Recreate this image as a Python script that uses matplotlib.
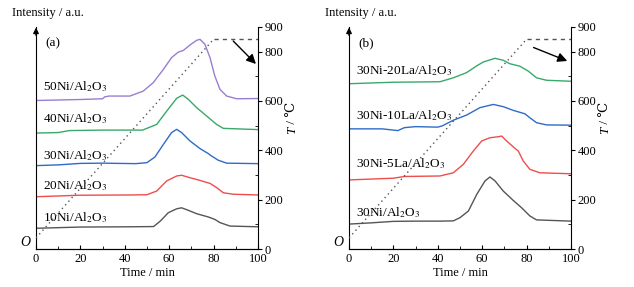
import numpy as np
import matplotlib
matplotlib.use('Agg')
import matplotlib.pyplot as plt

plt.rcParams['font.family'] = ['Liberation Serif', 'DejaVu Serif']
plt.rcParams['mathtext.fontset'] = 'stix'
plt.rcParams['font.size'] = 9

# ---- panel (a): Ni loading series (intensity in arbitrary units) ----
t_a10 = [0, 20, 42, 53, 56, 59.6, 63.4, 65.6, 68.6, 72.4, 77.6, 80.6, 82.9, 87.4, 100]
i_a10 = [84, 89, 90, 91, 113, 147, 163, 167, 157, 143, 130, 120, 107, 93, 90]
t_a20 = [0, 20, 42, 50, 54.4, 58.9, 63.4, 65.6, 69.4, 73.9, 78.4, 81.4, 84.4, 88.9, 100]
i_a20 = [212, 218, 219, 220, 235, 276, 296, 299, 289, 278, 266, 249, 228, 222, 219]
t_a30 = [0, 10, 20, 30, 45, 50, 53.6, 57.4, 61.1, 63.4, 65.6, 69.4, 73.9, 77.6, 79.1, 82.1,
         85.9, 100]
i_a30 = [338, 341, 347, 348, 346, 350, 373, 424, 472, 485, 472, 438, 407, 387, 377, 360,
         348, 346]
t_a40 = [0, 10, 15, 30, 48, 54.4, 58.9, 63.4, 66.1, 68.6, 72.4, 76.9, 81.4, 84.4, 100]
i_a40 = [470, 472, 480, 482, 482, 505, 559, 611, 624, 607, 573, 539, 505, 489, 484]
t_a50 = [0, 20, 30, 31, 33, 40, 42.3, 48.3, 52.8, 57.4, 61.1, 64.1, 66.4, 69.4, 72.4, 73.9,
         76.1, 78.4, 80.6, 82.9, 85.9, 90.4, 100]
i_a50 = [602, 606, 609, 617, 620, 620, 620, 640, 674, 728, 776, 798, 805, 827, 846, 850,
         830, 776, 701, 647, 620, 609, 610]

# ---- panel (b): La promoted series ----
t_b0 = [0, 10, 20, 30, 41, 47, 50, 53.8, 57.6, 61.3, 63.5, 65.8, 69.5, 74, 77.8, 81.5, 84.5,
        100]
i_b0 = [101, 106, 112, 113, 113, 114, 127, 154, 222, 276, 292, 276, 235, 197, 167, 134, 118,
        113]
t_b5 = [0, 20, 25, 41, 47, 51.5, 56, 59.8, 63.5, 67.3, 68.8, 71, 74.8, 76.3, 78.5, 81.5, 86,
        100]
i_b5 = [280, 287, 294, 296, 309, 343, 397, 438, 451, 455, 458, 438, 408, 397, 357, 323, 309,
        305]
t_b10 = [0, 15, 22, 25, 30, 40, 42, 47, 53, 59, 65, 69.5, 74, 79.3, 81.5, 84.5, 89, 100]
i_b10 = [487, 487, 480, 492, 496, 494, 499, 522, 543, 573, 586, 577, 562, 548, 532, 512, 503,
         502]
t_b20 = [0, 20, 41, 47, 53, 57.5, 60.5, 65.8, 69.5, 72.5, 77, 80.8, 84.5, 89, 100]
i_b20 = [670, 676, 678, 694, 715, 742, 758, 773, 765, 751, 741, 721, 694, 684, 680]

# temperature program
t_ramp = [0, 80]
T_ramp = [45, 850]
t_hold = [80, 100]
T_hold = [850, 850]

labels_a = ['10Ni/Al$_2$O$_3$', '20Ni/Al$_2$O$_3$', '30Ni/Al$_2$O$_3$',
            '40Ni/Al$_2$O$_3$', '50Ni/Al$_2$O$_3$']
labels_b = ['30Ni/Al$_2$O$_3$', '30Ni-5La/Al$_2$O$_3$', '30Ni-10La/Al$_2$O$_3$',
            '30Ni-20La/Al$_2$O$_3$']
colors = ['#555555', '#ee4d4d', '#2e6bc9', '#3aa86a', '#9b7dd0']

series_a = [(t_a10, i_a10), (t_a20, i_a20), (t_a30, i_a30), (t_a40, i_a40), (t_a50, i_a50)]
series_b = [(t_b0, i_b0), (t_b5, i_b5), (t_b10, i_b10), (t_b20, i_b20)]
label_y_a = [126, 255, 377, 527, 660]
label_y_b = [149, 345, 541, 724]


def draw_panel(fig, rect, series, labels, label_y, tag, arrow, title_x):
    ax = fig.add_axes(rect)
    for k, (t, y) in enumerate(series):
        ax.plot(t, y, color=colors[k], lw=1)
        ax.text(3, label_y[k], labels[k], fontsize=9.5, ha='left', va='center')
    ax.set_xlim(0, 100)
    ax.set_ylim(0, 900)
    ax.set_xticks(np.arange(0, 101, 20))
    ax.set_xticks(np.arange(10, 100, 20), minor=True)
    ax.tick_params(axis='x', direction='in', length=3, pad=3)
    ax.tick_params(axis='x', which='minor', direction='in', length=2)
    ax.set_yticks([])
    ax.spines['top'].set_visible(False)
    ax.spines['right'].set_visible(False)
    ax.set_xlabel('Time / min', labelpad=1)
    ax.text(4, 835, tag, fontsize=9.5, ha='left', va='center')
    # left axis arrow
    ax.annotate('', xy=(0, 1.01), xytext=(0, 0.95), xycoords='axes fraction',
                arrowprops=dict(arrowstyle='-|>', color='black', lw=1,
                                mutation_scale=8))
    fig.text(title_x, 0.955, 'Intensity / a.u.', ha='left', va='center', fontsize=9)
    ax.text(-0.025, 0.0, 'O', transform=ax.transAxes, ha='right', va='bottom',
            fontstyle='italic', fontsize=10)

    ax2 = ax.twinx()
    ax2.set_ylim(0, 900)
    ax2.plot(t_ramp, T_ramp, color='#555555', lw=1, ls=(0, (1, 2.5)))
    ax2.plot(t_hold, T_hold, color='#555555', lw=1, ls=(0, (3, 3)))
    ax2.set_yticks([0, 200, 400, 600, 800, 900])
    ax2.set_yticks([100, 300, 500, 700], minor=True)
    ax2.tick_params(axis='y', direction='out', length=3, pad=2)
    ax2.tick_params(axis='y', which='minor', direction='in', length=2)
    ax2.spines['top'].set_visible(False)
    ax2.spines['left'].set_visible(False)
    ax2.annotate('', xy=arrow[1], xytext=arrow[0],
                 arrowprops=dict(arrowstyle='-|>', color='black', lw=1,
                                 mutation_scale=14))
    tt = ax2.text(1.155, 0.55, 'T', transform=ax2.transAxes, rotation=90,
                  fontstyle='italic', ha='center', va='top', fontsize=9.5)
    ax2.annotate(' / ℃', xy=(0.5, 1.0), xycoords=tt, rotation=90,
                 ha='center', va='bottom', fontsize=9.5)
    return ax


fig = plt.figure(figsize=(6.34, 2.87), dpi=100)
draw_panel(fig, [0.0568, 0.1324, 0.350, 0.7736], series_a, labels_a, label_y_a, '(a)',
           ((88, 851), (100, 742)), 0.019)
draw_panel(fig, [0.5505, 0.1324, 0.350, 0.7736], series_b, labels_b, label_y_b, '(b)',
           ((82, 821), (99.5, 758)), 0.513)
fig.savefig('out.png', dpi=100)
